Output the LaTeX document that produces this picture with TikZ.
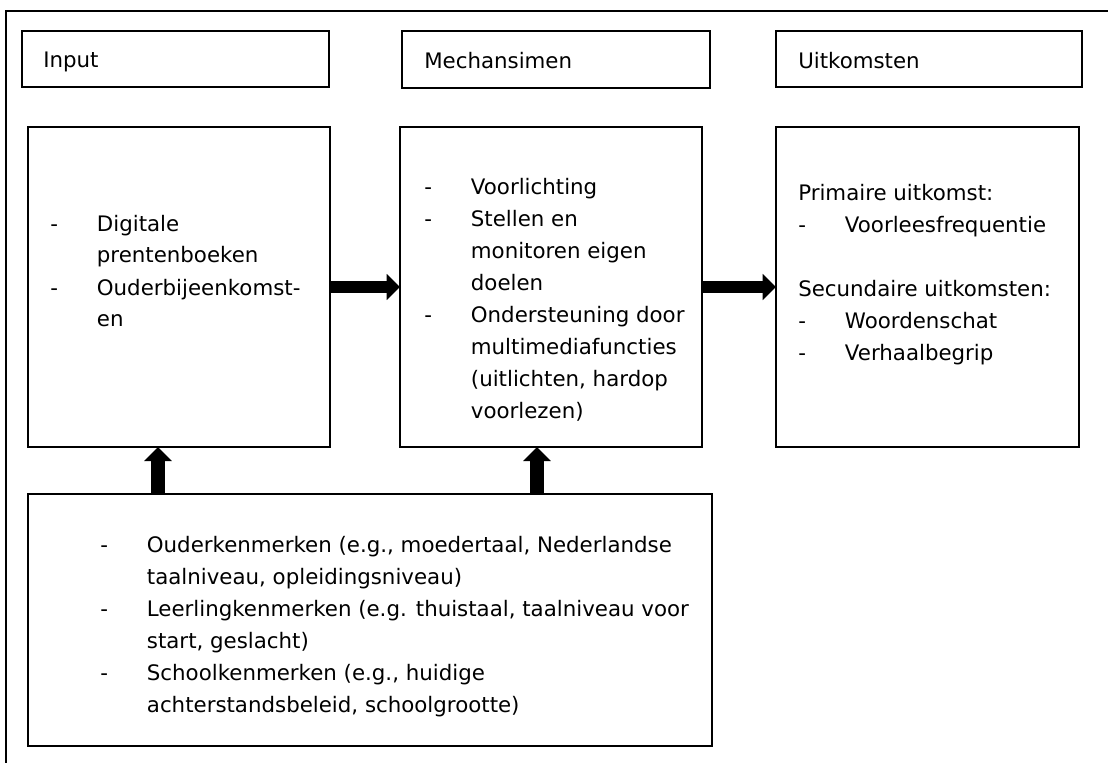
\documentclass[tikz,border=0pt]{standalone}
\usepackage{fontspec}
\setmainfont{DejaVu Sans}
\usetikzlibrary{arrows.meta}
\tikzset{
    % Lines and boxes
    frame line/.style={line width=1.5pt},
    box/.style={draw, frame line, anchor=north west, inner sep=0pt, outer sep=0pt},
    %
    % Texts (base = baseline of the last line)
    head text/.style={anchor=base west, inner sep=0pt, font=\fontsize{16}{24}\selectfont},
    body text/.style={anchor=base west, inner sep=0pt, align=left, font=\fontsize{16}{24}\selectfont},
    %
    % Arrows
    fat tip/.tip={Triangle[length=10pt,width=19pt]},
    tall tip/.tip={Triangle[length=10.5pt,width=20pt]},
    fat arr/.style={-{fat tip}, line width=9pt},
    tall arr/.style={-{tall tip}, line width=11pt}
}
\newcommand{\dsh}{\makebox[35pt][l]{-}}
\newcommand{\cnt}{\hspace*{35pt}}

\begin{document}
\begin{tikzpicture}[x=0.75pt, y=-0.75pt]
        \useasboundingbox (0,0) rectangle (1108,763);
        \draw[frame line] (6,766) -- (6,11) -- (1112,11);

        % headers
        \node[box, minimum width=307*0.75pt, minimum height=56*0.75pt] (inhead) at (22,31) {};
        \node[box, minimum width=308*0.75pt, minimum height=57*0.75pt] (mechhead) at (402,31) {};
        \node[box, minimum width=306*0.75pt, minimum height=56*0.75pt] (outhead) at (776,31) {};
        \node[head text] (inlabel) at (43,68) {Input};
        \node[head text] (mechlabel) at (424,69) {Mechansimen};
        \node[head text] (outlabel) at (798,69) {Uitkomsten};

        % main boxes
        \node[box, minimum width=302*0.75pt, minimum height=320*0.75pt] (inbox) at (28,127) {};
        \node[box, minimum width=302*0.75pt, minimum height=320*0.75pt] (mechbox) at (400,127) {};
        \node[box, minimum width=303*0.75pt, minimum height=320*0.75pt] (outbox) at (776,127) {};
        \node[box, minimum width=684*0.75pt, minimum height=252*0.75pt] (condbox) at (28,494) {};

        \node[body text] (intext) at (50,327) {\dsh Digitale\\ \cnt prentenboeken\\ \dsh Ouderbijeenkomst-\\ \cnt en};
        \node[body text] (mechtext) at (424,418) {\dsh Voorlichting\\ \dsh Stellen en\\ \cnt monitoren eigen\\ \cnt doelen\\
            \dsh Ondersteuning door\\ \cnt multimediafuncties\\ \cnt (uitlichten, hardop\\ \cnt voorlezen)};
        \node[body text] (outtext) at (798,360) {Primaire uitkomst:\\ \dsh Voorleesfrequentie\\[24pt]
            Secundaire uitkomsten:\\ \dsh Woordenschat\\ \dsh Verhaalbegrip};
        \node[body text] (condtext) at (100,712) {\dsh Ouderkenmerken (e.g., moedertaal, Nederlandse\\
            \cnt taalniveau, opleidingsniveau)\\
            \dsh Leerlingkenmerken (e.g. thuistaal, taalniveau voor\\
            \cnt start, geslacht)\\
            \dsh Schoolkenmerken (e.g., huidige\\
            \cnt achterstandsbeleid, schoolgrootte)};

        % arrows
        \draw[fat arr] (inbox.east) -- (mechbox.west);
        \draw[fat arr] (mechbox.east) -- (outbox.west);
        \draw[tall arr] (condbox.north -| 158,0) -- (inbox.south -| 158,0);
        \draw[tall arr] (condbox.north -| 537,0) -- (mechbox.south -| 537,0);
\end{tikzpicture}
\end{document}
